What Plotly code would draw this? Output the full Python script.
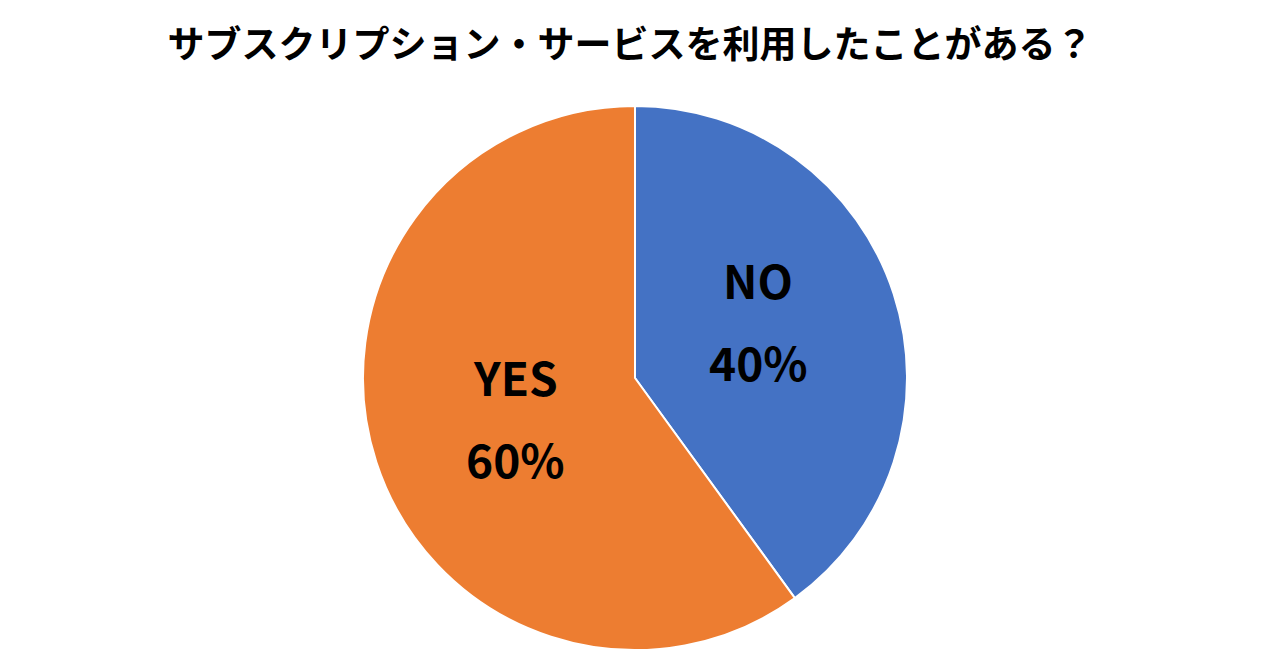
import plotly.graph_objects as go

TITLE = "サブスクリプション・サービスを利用したことがある？"
LABELS = ["NO", "YES"]
VALUES = [40, 60]
COLORS = ["#4472C4", "#ED7D31"]

W, H = 1280, 669
OFF = 8  # ページ本体の余白ぶんを補正
CX, CY, R = 635 - OFF, 378 - OFF, 272  # 円の中心と半径 (px)
LABEL_POS = {"NO": (758 - OFF, 320 - OFF), "YES": (515 - OFF, 417 - OFF)}

fig = go.Figure(go.Pie(
    labels=LABELS, values=VALUES,
    marker=dict(colors=COLORS, line=dict(color="white", width=2)),
    sort=False, direction="clockwise", rotation=0,
    textinfo="none", hoverinfo="label+percent", showlegend=False,
    domain=dict(x=[0, 2 * CX / W], y=[(H - CY - R) / H, (H - CY + R) / H]),
))

total = sum(VALUES)
font = dict(family="Noto Sans CJK JP", size=46, color="black")
for lab, val in zip(LABELS, VALUES):
    px, py = LABEL_POS[lab]
    pct = f"{round(val / total * 100)}%"
    for txt, dy in [(lab, 41), (pct, -41)]:
        fig.add_annotation(x=px / W, y=1 - py / H, xref="paper", yref="paper",
                           text=f"<b>{txt}</b>", showarrow=False, yshift=dy, font=font)

fig.update_layout(
    title=dict(text=f"<b>{TITLE}</b>", x=(630 - OFF) / W, xanchor="center",
               y=1 - (45 - OFF) / H, yanchor="middle",
               font=dict(family="Noto Sans CJK JP", size=37, color="black")),
    width=W, height=H,
    margin=dict(l=0, r=0, t=0, b=0),
    paper_bgcolor="white", plot_bgcolor="white",
)

fig.write_html("out.html")
